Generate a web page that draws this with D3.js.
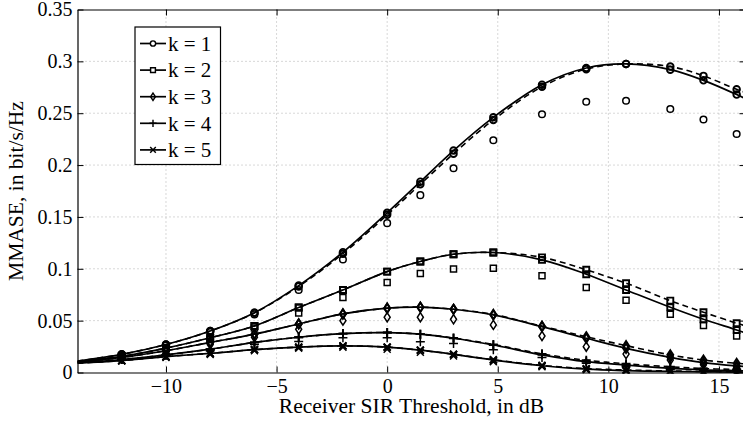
<!DOCTYPE html>
<html>
<head>
<meta charset="utf-8">
<script src="https://cdn.jsdelivr.net/npm/d3@7"></script>
<style>
  body { margin: 0; background: #fff; }
  text { font-family: "Liberation Serif", "Times New Roman", serif; fill: #000; }
</style>
</head>
<body>
<div id="chart"></div>
<script>
var svgWidth = 743;
var svgHeight = 425;

var margin = { top: 9.5, left: 77.5, right: -2.5, bottom: 52.5 };
var width = svgWidth - margin.left - margin.right;
var height = svgHeight - margin.top - margin.bottom;

// SIR threshold (dB) where the curves are sampled, incl. plot edges
var sirDb = [-14, -12, -10, -8, -6, -4, -2, 0, 1.5, 3, 4.8, 7, 9, 10.8, 12.8, 14.3, 15.8, 16.2];
// x positions with markers
var markerDb = [-12, -10, -8, -6, -4, -2, 0, 1.5, 3, 4.8, 7, 9, 10.8, 12.8, 14.3, 15.8];

var kLabels = ["k = 1", "k = 2", "k = 3", "k = 4", "k = 5"];

// solid curves (analysis)
var solidK1 = [0.011, 0.0175, 0.027, 0.040, 0.0577, 0.0838, 0.116, 0.154, 0.184, 0.214, 0.246, 0.2775, 0.2936, 0.2975, 0.292, 0.2817, 0.268, 0.264];
var solidK2 = [0.0105, 0.0155, 0.0235, 0.0335, 0.0449, 0.0626, 0.0796, 0.0973, 0.107, 0.114, 0.1157, 0.1086, 0.0948, 0.0796, 0.0629, 0.0513, 0.041, 0.038];
var solidK3 = [0.010, 0.0145, 0.021, 0.029, 0.037, 0.0468, 0.0565, 0.062, 0.063, 0.061, 0.0555, 0.0442, 0.033, 0.0233, 0.0146, 0.0095, 0.0063, 0.0057];
var solidK4 = [0.0095, 0.0125, 0.017, 0.0225, 0.029, 0.034, 0.0375, 0.0385, 0.037, 0.033, 0.0265, 0.017, 0.0104, 0.0072, 0.004, 0.0025, 0.0018, 0.0016];
var solidK5 = [0.009, 0.0115, 0.0153, 0.0185, 0.022, 0.0245, 0.0256, 0.0245, 0.0215, 0.0175, 0.012, 0.0065, 0.0032, 0.0018, 0.001, 0.0006, 0.0004, 0.0004];

// dashed curves (approximation)
var dashK1 = [0.011, 0.0175, 0.027, 0.040, 0.0575, 0.083, 0.1145, 0.152, 0.1815, 0.211, 0.2435, 0.2755, 0.2925, 0.2975, 0.295, 0.286, 0.273, 0.270];
var dashK2 = [0.0105, 0.0155, 0.0235, 0.0335, 0.0449, 0.0626, 0.0796, 0.0973, 0.107, 0.114, 0.1157, 0.111, 0.099, 0.0861, 0.0693, 0.0581, 0.0475, 0.045];
var dashK3 = [0.010, 0.0145, 0.021, 0.029, 0.037, 0.0468, 0.0565, 0.062, 0.063, 0.061, 0.056, 0.0447, 0.0345, 0.0259, 0.017, 0.012, 0.0089, 0.0083];
var dashK4 = [0.0095, 0.0125, 0.017, 0.0225, 0.029, 0.034, 0.0375, 0.0385, 0.037, 0.0333, 0.027, 0.018, 0.0118, 0.0085, 0.0055, 0.0038, 0.003, 0.0028];
var dashK5 = [0.009, 0.0115, 0.0153, 0.0185, 0.022, 0.0245, 0.0256, 0.0245, 0.0215, 0.0176, 0.0123, 0.0069, 0.0038, 0.0024, 0.0015, 0.001, 0.0008, 0.0008];

// separate hollow markers (simulation)
var simK1 = [0.017, 0.026, 0.039, 0.056, 0.0796, 0.109, 0.144, 0.171, 0.197, 0.224, 0.249, 0.261, 0.262, 0.254, 0.244, 0.230];
var simK2 = [0.015, 0.023, 0.032, 0.043, 0.0574, 0.0722, 0.0867, 0.0954, 0.0999, 0.1006, 0.0934, 0.0819, 0.0697, 0.0562, 0.0452, 0.0352];
var simK3 = [0.014, 0.020, 0.027, 0.034, 0.0417, 0.050, 0.0533, 0.0533, 0.0513, 0.0459, 0.0352, 0.0249, 0.0178, 0.012, 0.0075, 0.0045];
var simK4 = [0.0125, 0.0165, 0.021, 0.027, 0.030, 0.0335, 0.0335, 0.0297, 0.028, 0.022, 0.0145, 0.009, 0.0055, 0.003, 0.002, 0.0012];
var simK5 = [0.011, 0.0145, 0.0175, 0.021, 0.0235, 0.0243, 0.0225, 0.0195, 0.016, 0.0105, 0.0055, 0.0025, 0.0013, 0.0008, 0.0005, 0.0003];

var xTicks = [-10, -5, 0, 5, 10, 15];
var yTicks = [0, 0.05, 0.1, 0.15, 0.2, 0.25, 0.3, 0.35];

var series = [
  { label: kLabels[0], solid: solidK1, dash: dashK1, sim: simK1, marker: "circle" },
  { label: kLabels[1], solid: solidK2, dash: dashK2, sim: simK2, marker: "square" },
  { label: kLabels[2], solid: solidK3, dash: dashK3, sim: simK3, marker: "diamond" },
  { label: kLabels[3], solid: solidK4, dash: dashK4, sim: simK4, marker: "plus" },
  { label: kLabels[4], solid: solidK5, dash: dashK5, sim: simK5, marker: "times" }
];

// marker shapes, centred on 0,0
function markerPath(type) {
  switch (type) {
    case "circle": return "M3.3,0A3.3,3.3 0 1,1 -3.3,0A3.3,3.3 0 1,1 3.3,0Z";
    case "square": return "M-3,-3H3V3H-3Z";
    case "diamond": return "M0,-4.6L3,0L0,4.6L-3,0Z";
    case "plus": return "M-4.5,0H4.5M0,-4.5V4.5";
    case "times": return "M-3.5,-3.5L3.5,3.5M-3.5,3.5L3.5,-3.5";
  }
}

var svg = d3.select("#chart")
  .append("svg")
  .attr("width", svgWidth)
  .attr("height", svgHeight);

var chartGroup = svg.append("g")
  .attr("transform", `translate(${margin.left}, ${margin.top})`);

var xScale = d3.scaleLinear().domain([-14, 16.2]).range([0, width]);
var yScale = d3.scaleLinear().domain([0, 0.35]).range([height, 0]);

// grid
chartGroup.append("g")
  .selectAll("line")
  .data(xTicks)
  .enter()
  .append("line")
  .attr("x1", d => xScale(d)).attr("x2", d => xScale(d))
  .attr("y1", 0).attr("y2", height)
  .attr("stroke", "#b0b0b0").attr("stroke-width", 1)
  .attr("stroke-dasharray", "1,3");

chartGroup.append("g")
  .selectAll("line")
  .data(yTicks.filter(d => d > 0 && d < 0.35))
  .enter()
  .append("line")
  .attr("x1", 0).attr("x2", width)
  .attr("y1", d => yScale(d)).attr("y2", d => yScale(d))
  .attr("stroke", "#b0b0b0").attr("stroke-width", 1)
  .attr("stroke-dasharray", "1,3");

// axes (ticks pointing inward)
var bottomAxis = d3.axisBottom(xScale).tickValues(xTicks).tickSizeInner(-6).tickSizeOuter(0)
  .tickFormat(d => d < 0 ? "\u2212" + Math.abs(d) : d);
var topAxis = d3.axisTop(xScale).tickValues(xTicks).tickSizeInner(-6).tickSizeOuter(0).tickFormat("");
var leftAxis = d3.axisLeft(yScale).tickValues(yTicks).tickSizeInner(-6).tickSizeOuter(0)
  .tickFormat(d => d === 0 ? "0" : d3.format("")(+d.toFixed(2)));
var rightAxis = d3.axisRight(yScale).tickValues(yTicks).tickSizeInner(-6).tickSizeOuter(0).tickFormat("");

var gx = chartGroup.append("g").attr("transform", `translate(0, ${height})`).call(bottomAxis);
var gy = chartGroup.append("g").call(leftAxis);
chartGroup.append("g").call(topAxis);
chartGroup.append("g").attr("transform", `translate(${width}, 0)`).call(rightAxis);

svg.selectAll(".domain").attr("stroke", "#000").attr("stroke-width", 1.2);
svg.selectAll(".tick line").attr("stroke", "#000");
gx.selectAll("text").attr("font-size", "20px").attr("dy", "0.71em").attr("y", 6)
  .style("font-family", "Liberation Serif");
gy.selectAll("text").attr("font-size", "20px").attr("x", -5)
  .style("font-family", "Liberation Serif");

// curves
var clipId = "plotclip";
chartGroup.append("clipPath").attr("id", clipId)
  .append("rect").attr("width", width).attr("height", height + 1);

var plotGroup = chartGroup.append("g").attr("clip-path", `url(#${clipId})`);

var line = d3.line()
  .x((d, i) => xScale(sirDb[i]))
  .y(d => yScale(d))
  .curve(d3.curveCatmullRom.alpha(0.5));

series.forEach(function(s) {
  plotGroup.append("path")
    .attr("d", line(s.dash))
    .attr("fill", "none").attr("stroke", "#000")
    .attr("stroke-width", 1.6).attr("stroke-dasharray", "6,4");
  plotGroup.append("path")
    .attr("d", line(s.solid))
    .attr("fill", "none").attr("stroke", "#000")
    .attr("stroke-width", 1.7);

  // markers on the two curves and the hollow simulation points
  var onSolid = markerDb.map(x => ({ x: x, y: s.solid[sirDb.indexOf(x)] }));
  var onDash = markerDb.map(x => ({ x: x, y: s.dash[sirDb.indexOf(x)] }));
  var sims = markerDb.map((x, i) => ({ x: x, y: s.sim[i] }));

  [onSolid, onDash, sims].forEach(function(pts, j) {
    plotGroup.append("g")
      .selectAll("path")
      .data(pts)
      .enter()
      .append("path")
      .attr("transform", d => `translate(${xScale(d.x)}, ${yScale(d.y)})`)
      .attr("d", markerPath(s.marker))
      .attr("fill", "none")
      .attr("stroke", "#000")
      .attr("stroke-width", j < 2 ? 1.9 : 1.5);
  });
});

// legend
var legend = chartGroup.append("g")
  .attr("transform", "translate(57.5, 17.5)");

legend.append("rect")
  .attr("width", 85.5).attr("height", 137.5)
  .attr("fill", "#fff").attr("stroke", "#000").attr("stroke-width", 1.2);

series.forEach(function(s, i) {
  var row = legend.append("g").attr("transform", `translate(0, ${16.5 + i * 26.6})`);
  row.append("line").attr("x1", 5).attr("x2", 31).attr("y1", 0).attr("y2", 0)
    .attr("stroke", "#000").attr("stroke-width", 1.7);
  row.append("path").attr("transform", "translate(18, 0) scale(0.8)")
    .attr("d", markerPath(s.marker))
    .attr("fill", s.marker === "circle" || s.marker === "square" ? "#fff" : "none")
    .attr("stroke", "#000").attr("stroke-width", 1.8);
  row.append("text").attr("x", 33).attr("y", 0).attr("dy", "0.35em")
    .attr("font-size", "21px").text(s.label);
});

// axis labels
chartGroup.append("text")
  .attr("transform", "rotate(-90)")
  .attr("x", 0 - (height / 2))
  .attr("y", -55)
  .attr("text-anchor", "middle")
  .attr("font-size", "21.5px")
  .text("MMASE, in bit/s/Hz");

chartGroup.append("text")
  .attr("x", (xScale(-14) + xScale(16.2)) / 2)
  .attr("y", height + 40.5)
  .attr("text-anchor", "middle")
  .attr("font-size", "21.5px")
  .text("Receiver SIR Threshold, in dB");
</script>
</body>
</html>
